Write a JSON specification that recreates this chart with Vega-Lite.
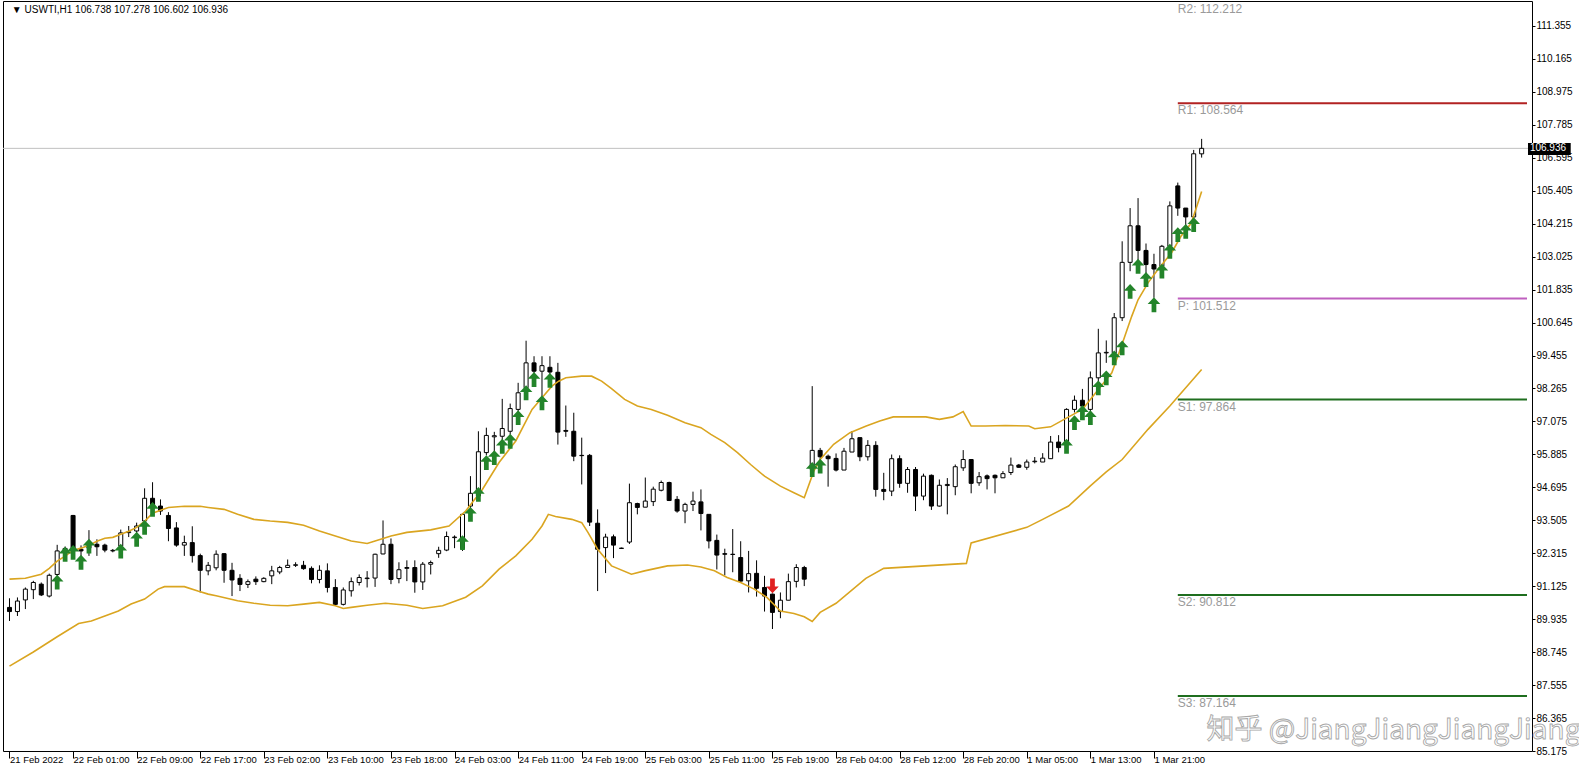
{
  "$schema": "https://vega.github.io/schema/vega-lite/v6.json",
  "width": 1529,
  "height": 750,
  "autosize": {"type": "none"},
  "padding": {"left": 3, "top": 1, "right": 47, "bottom": 28},
  "background": "#ffffff",
  "config": {"view": {"stroke": "#000000", "strokeWidth": 1}, "axis": {"labelOverlap": false, "labelFlush": false, "grid": false, "domain": false}},
  "datasets": {
    "candles": [
      {"i":0,"o":90.36,"h":90.69,"l":89.87,"c":90.21},{"i":1,"o":90.21,"h":90.72,"l":90.05,"c":90.59},{"i":2,"o":90.63,"h":91.08,"l":90.30,"c":91.02},{"i":3,"o":91.00,"h":91.32,"l":90.66,"c":91.26},{"i":4,"o":91.20,"h":91.26,"l":90.77,"c":90.81},
      {"i":5,"o":90.77,"h":91.58,"l":90.72,"c":91.52},{"i":6,"o":91.55,"h":92.62,"l":91.45,"c":92.40},{"i":7,"o":92.38,"h":92.56,"l":92.20,"c":92.49},{"i":8,"o":93.68,"h":93.70,"l":92.42,"c":92.50},{"i":9,"o":92.46,"h":92.60,"l":92.20,"c":92.40},
      {"i":10,"o":92.50,"h":93.15,"l":92.22,"c":92.70},{"i":11,"o":92.64,"h":92.82,"l":92.22,"c":92.55},{"i":12,"o":92.61,"h":92.66,"l":92.35,"c":92.43},{"i":13,"o":92.40,"h":92.47,"l":92.35,"c":92.42},{"i":14,"o":92.58,"h":93.17,"l":92.40,"c":93.05},
      {"i":15,"o":93.06,"h":93.30,"l":92.90,"c":93.09},{"i":16,"o":93.12,"h":93.42,"l":93.00,"c":93.30},{"i":17,"o":93.48,"h":94.66,"l":93.36,"c":94.30},{"i":18,"o":94.30,"h":94.88,"l":93.90,"c":94.02},{"i":19,"o":94.02,"h":94.26,"l":93.70,"c":93.84},
      {"i":20,"o":93.68,"h":93.80,"l":92.75,"c":93.21},{"i":21,"o":93.23,"h":93.44,"l":92.55,"c":92.61},{"i":22,"o":92.61,"h":92.95,"l":92.22,"c":92.70},{"i":23,"o":92.70,"h":93.29,"l":91.98,"c":92.23},{"i":24,"o":92.23,"h":92.30,"l":90.90,"c":91.70},
      {"i":25,"o":91.68,"h":92.00,"l":91.52,"c":91.88},{"i":26,"o":91.79,"h":92.42,"l":91.70,"c":92.28},{"i":27,"o":92.30,"h":92.32,"l":91.25,"c":91.70},{"i":28,"o":91.70,"h":91.97,"l":90.77,"c":91.35},{"i":29,"o":91.41,"h":91.56,"l":90.95,"c":91.19},
      {"i":30,"o":91.19,"h":91.37,"l":91.06,"c":91.29},{"i":31,"o":91.38,"h":91.48,"l":91.17,"c":91.29},{"i":32,"o":91.29,"h":91.45,"l":91.27,"c":91.41},{"i":33,"o":91.50,"h":91.86,"l":91.20,"c":91.68},{"i":34,"o":91.64,"h":91.86,"l":91.56,"c":91.80},
      {"i":35,"o":91.80,"h":92.09,"l":91.80,"c":91.88},{"i":36,"o":91.88,"h":91.99,"l":91.82,"c":91.90},{"i":37,"o":91.88,"h":92.04,"l":91.72,"c":91.76},{"i":38,"o":91.77,"h":91.84,"l":91.23,"c":91.37},{"i":39,"o":91.37,"h":91.88,"l":91.23,"c":91.70},
      {"i":40,"o":91.68,"h":91.95,"l":90.90,"c":91.08},{"i":41,"o":91.08,"h":91.38,"l":90.42,"c":90.47},{"i":42,"o":90.47,"h":91.08,"l":90.43,"c":90.99},{"i":43,"o":90.96,"h":91.44,"l":90.75,"c":91.29},{"i":44,"o":91.26,"h":91.55,"l":91.15,"c":91.44},
      {"i":45,"o":91.40,"h":91.67,"l":91.08,"c":91.42},{"i":46,"o":91.42,"h":92.30,"l":91.10,"c":92.28},{"i":47,"o":92.29,"h":93.50,"l":92.28,"c":92.64},{"i":48,"o":92.64,"h":92.85,"l":91.20,"c":91.37},{"i":49,"o":91.40,"h":91.99,"l":91.23,"c":91.72},
      {"i":50,"o":91.77,"h":92.06,"l":91.31,"c":91.80},{"i":51,"o":91.80,"h":92.06,"l":90.89,"c":91.28},{"i":52,"o":91.28,"h":92.00,"l":90.99,"c":91.92},{"i":53,"o":91.92,"h":92.05,"l":91.55,"c":91.98},{"i":54,"o":92.30,"h":92.55,"l":92.15,"c":92.42},
      {"i":55,"o":92.43,"h":93.10,"l":92.39,"c":92.92},{"i":56,"o":92.88,"h":92.96,"l":92.50,"c":92.90},{"i":57,"o":92.48,"h":93.76,"l":92.40,"c":93.72},{"i":58,"o":94.02,"h":95.10,"l":93.90,"c":94.48},{"i":59,"o":94.38,"h":96.72,"l":94.25,"c":95.98},
      {"i":60,"o":95.95,"h":96.85,"l":95.85,"c":96.57},{"i":61,"o":96.52,"h":96.70,"l":95.95,"c":96.56},{"i":62,"o":96.54,"h":97.89,"l":96.35,"c":96.82},{"i":63,"o":96.72,"h":97.72,"l":96.60,"c":97.54},{"i":64,"o":97.51,"h":98.47,"l":97.40,"c":98.11},
      {"i":65,"o":98.29,"h":99.99,"l":98.10,"c":99.19},{"i":66,"o":99.19,"h":99.43,"l":98.75,"c":98.89},{"i":67,"o":98.89,"h":99.43,"l":97.99,"c":99.09},{"i":68,"o":99.03,"h":99.43,"l":98.60,"c":98.86},{"i":69,"o":98.85,"h":99.19,"l":96.24,"c":96.69},
      {"i":70,"o":96.75,"h":97.65,"l":96.52,"c":96.72},{"i":71,"o":96.72,"h":97.39,"l":95.64,"c":95.82},{"i":72,"o":95.85,"h":96.49,"l":94.80,"c":95.84},{"i":73,"o":95.85,"h":95.90,"l":93.30,"c":93.44},{"i":74,"o":93.40,"h":93.90,"l":90.95,"c":92.46},
      {"i":75,"o":92.52,"h":93.02,"l":91.60,"c":92.90},{"i":76,"o":92.91,"h":92.99,"l":92.14,"c":92.61},{"i":77,"o":92.50,"h":92.52,"l":92.47,"c":92.49},{"i":78,"o":92.72,"h":94.83,"l":92.65,"c":94.14},{"i":79,"o":94.11,"h":94.14,"l":93.72,"c":93.97},
      {"i":80,"o":93.98,"h":95.05,"l":93.98,"c":94.20},{"i":81,"o":94.18,"h":94.72,"l":94.02,"c":94.63},{"i":82,"o":94.59,"h":94.94,"l":94.55,"c":94.87},{"i":83,"o":94.87,"h":94.90,"l":94.20,"c":94.22},{"i":84,"o":94.26,"h":94.38,"l":93.78,"c":93.84},
      {"i":85,"o":93.84,"h":94.14,"l":93.40,"c":94.08},{"i":86,"o":94.08,"h":94.54,"l":93.84,"c":94.20},{"i":87,"o":94.17,"h":94.62,"l":93.14,"c":93.75},{"i":88,"o":93.72,"h":93.72,"l":92.49,"c":92.76},{"i":89,"o":92.78,"h":92.99,"l":91.73,"c":92.25},
      {"i":90,"o":92.30,"h":92.48,"l":91.52,"c":92.28},{"i":91,"o":92.28,"h":93.19,"l":91.63,"c":92.27},{"i":92,"o":92.16,"h":92.75,"l":91.25,"c":91.31},{"i":93,"o":91.32,"h":92.40,"l":90.90,"c":91.58},{"i":94,"o":91.59,"h":92.06,"l":90.75,"c":91.05},
      {"i":95,"o":91.08,"h":91.50,"l":90.21,"c":90.77},{"i":96,"o":90.84,"h":90.86,"l":89.58,"c":90.18},{"i":97,"o":90.21,"h":90.90,"l":89.97,"c":90.62},{"i":98,"o":90.62,"h":91.58,"l":90.62,"c":91.29},{"i":99,"o":91.30,"h":91.92,"l":91.08,"c":91.80},
      {"i":100,"o":91.80,"h":91.86,"l":91.13,"c":91.38},{"i":101,"o":95.34,"h":98.35,"l":95.16,"c":96.03},{"i":102,"o":96.03,"h":96.12,"l":95.60,"c":95.80},{"i":103,"o":95.82,"h":95.88,"l":94.72,"c":95.73},{"i":104,"o":95.74,"h":95.92,"l":95.27,"c":95.32},
      {"i":105,"o":95.32,"h":96.12,"l":95.32,"c":96.00},{"i":106,"o":95.97,"h":96.73,"l":95.97,"c":96.45},{"i":107,"o":96.49,"h":96.49,"l":95.64,"c":95.80},{"i":108,"o":95.80,"h":96.40,"l":95.66,"c":96.21},{"i":109,"o":96.21,"h":96.36,"l":94.36,"c":94.62},
      {"i":110,"o":94.62,"h":95.22,"l":94.23,"c":94.55},{"i":111,"o":94.56,"h":95.88,"l":94.38,"c":95.73},{"i":112,"o":95.73,"h":95.85,"l":94.68,"c":94.84},{"i":113,"o":94.84,"h":95.43,"l":94.50,"c":95.34},{"i":114,"o":95.34,"h":95.43,"l":93.84,"c":94.38},
      {"i":115,"o":94.38,"h":95.19,"l":94.23,"c":95.10},{"i":116,"o":95.13,"h":95.16,"l":93.88,"c":94.02},{"i":117,"o":94.02,"h":94.98,"l":94.00,"c":94.77},{"i":118,"o":94.76,"h":95.03,"l":93.72,"c":94.80},{"i":119,"o":94.72,"h":95.52,"l":94.41,"c":95.44},
      {"i":120,"o":95.40,"h":96.04,"l":95.29,"c":95.70},{"i":121,"o":95.70,"h":95.70,"l":94.48,"c":94.84},{"i":122,"o":94.86,"h":95.25,"l":94.75,"c":95.08},{"i":123,"o":95.11,"h":95.16,"l":94.62,"c":95.01},{"i":124,"o":95.13,"h":95.16,"l":94.48,"c":95.04},
      {"i":125,"o":95.04,"h":95.28,"l":95.04,"c":95.19},{"i":126,"o":95.23,"h":95.77,"l":95.14,"c":95.50},{"i":127,"o":95.50,"h":95.54,"l":95.40,"c":95.42},{"i":128,"o":95.42,"h":95.70,"l":95.33,"c":95.61},{"i":129,"o":95.62,"h":95.79,"l":95.56,"c":95.64},
      {"i":130,"o":95.61,"h":95.93,"l":95.61,"c":95.75},{"i":131,"o":95.73,"h":96.55,"l":95.73,"c":96.33},{"i":132,"o":96.33,"h":96.58,"l":95.96,"c":96.13},{"i":133,"o":96.25,"h":97.55,"l":96.20,"c":97.51},{"i":134,"o":97.51,"h":98.01,"l":97.40,"c":97.84},
      {"i":135,"o":97.84,"h":98.25,"l":97.50,"c":97.63},{"i":136,"o":97.51,"h":98.88,"l":97.35,"c":98.65},{"i":137,"o":98.65,"h":100.42,"l":98.50,"c":99.55},{"i":138,"o":99.55,"h":100.00,"l":99.19,"c":99.57},{"i":139,"o":99.55,"h":100.99,"l":99.40,"c":100.82},
      {"i":140,"o":100.82,"h":103.58,"l":100.70,"c":102.82},{"i":141,"o":102.82,"h":104.78,"l":102.50,"c":104.14},{"i":142,"o":104.14,"h":105.14,"l":102.90,"c":103.25},{"i":143,"o":103.25,"h":103.50,"l":102.30,"c":102.74},{"i":144,"o":102.74,"h":103.13,"l":101.54,"c":102.58},
      {"i":145,"o":102.68,"h":103.45,"l":102.50,"c":103.40},{"i":146,"o":103.40,"h":105.02,"l":103.30,"c":104.86},{"i":147,"o":105.58,"h":105.70,"l":104.50,"c":104.78},{"i":148,"o":104.78,"h":104.78,"l":103.80,"c":104.46},{"i":149,"o":104.46,"h":106.88,"l":104.20,"c":106.74},
      {"i":150,"o":106.738,"h":107.278,"l":106.602,"c":106.936}
    ],
    "bands": [
      {"band":"upper","i":0,"v":91.38},{"band":"upper","i":2,"v":91.41},{"band":"upper","i":4,"v":91.56},{"band":"upper","i":5,"v":91.77},{"band":"upper","i":6,"v":92.03},{"band":"upper","i":7,"v":92.21},{"band":"upper","i":8,"v":92.42},{"band":"upper","i":9,"v":92.50},{"band":"upper","i":10,"v":92.60},{"band":"upper","i":11,"v":92.75},{"band":"upper","i":12,"v":92.86},{"band":"upper","i":13,"v":92.89},{"band":"upper","i":14,"v":93.00},{"band":"upper","i":15,"v":93.11},{"band":"upper","i":16,"v":93.25},{"band":"upper","i":17,"v":93.47},{"band":"upper","i":18,"v":93.76},{"band":"upper","i":19,"v":93.87},{"band":"upper","i":20,"v":93.97},{"band":"upper","i":22,"v":94.01},{"band":"upper","i":24,"v":94.01},{"band":"upper","i":25,"v":93.97},{"band":"upper","i":27,"v":93.90},{"band":"upper","i":28.7,"v":93.72},{"band":"upper","i":30.75,"v":93.54},{"band":"upper","i":32.8,"v":93.48},{"band":"upper","i":35,"v":93.43},{"band":"upper","i":37,"v":93.33},{"band":"upper","i":39,"v":93.12},{"band":"upper","i":41,"v":92.94},{"band":"upper","i":43,"v":92.76},{"band":"upper","i":45,"v":92.67},{"band":"upper","i":46,"v":92.76},{"band":"upper","i":48,"v":92.94},{"band":"upper","i":50,"v":93.07},{"band":"upper","i":53,"v":93.16},{"band":"upper","i":55.3,"v":93.30},{"band":"upper","i":57.4,"v":93.84},{"band":"upper","i":59.5,"v":94.62},{"band":"upper","i":61.6,"v":95.59},{"band":"upper","i":63.7,"v":96.37},{"band":"upper","i":65.75,"v":97.51},{"band":"upper","i":67,"v":97.93},{"band":"upper","i":68.25,"v":98.35},{"band":"upper","i":69.1,"v":98.53},{"band":"upper","i":70,"v":98.65},{"band":"upper","i":72,"v":98.71},{"band":"upper","i":73.25,"v":98.71},{"band":"upper","i":74.5,"v":98.53},{"band":"upper","i":75.75,"v":98.26},{"band":"upper","i":77.4,"v":97.87},{"band":"upper","i":79,"v":97.63},{"band":"upper","i":80.75,"v":97.51},{"band":"upper","i":82.8,"v":97.30},{"band":"upper","i":85,"v":97.03},{"band":"upper","i":87,"v":96.85},{"band":"upper","i":88.25,"v":96.61},{"band":"upper","i":90,"v":96.31},{"band":"upper","i":91.6,"v":95.95},{"band":"upper","i":93.25,"v":95.52},{"band":"upper","i":95,"v":95.10},{"band":"upper","i":97,"v":94.74},{"band":"upper","i":98.7,"v":94.50},{"band":"upper","i":100,"v":94.32},{"band":"upper","i":101.2,"v":95.28},{"band":"upper","i":102,"v":95.70},{"band":"upper","i":103.7,"v":96.25},{"band":"upper","i":105.75,"v":96.67},{"band":"upper","i":107.8,"v":96.91},{"band":"upper","i":109.5,"v":97.09},{"band":"upper","i":111.2,"v":97.24},{"band":"upper","i":113.25,"v":97.24},{"band":"upper","i":115.3,"v":97.24},{"band":"upper","i":117,"v":97.15},{"band":"upper","i":118.7,"v":97.24},{"band":"upper","i":120,"v":97.43},{"band":"upper","i":121,"v":96.91},{"band":"upper","i":122.8,"v":96.91},{"band":"upper","i":125.3,"v":96.93},{"band":"upper","i":128.25,"v":96.91},{"band":"upper","i":129,"v":96.81},{"band":"upper","i":131,"v":96.88},{"band":"upper","i":132.7,"v":97.15},{"band":"upper","i":135,"v":97.51},{"band":"upper","i":137,"v":98.23},{"band":"upper","i":138.7,"v":98.83},{"band":"upper","i":139.9,"v":99.79},{"band":"upper","i":141.2,"v":100.87},{"band":"upper","i":142,"v":101.47},{"band":"upper","i":143.25,"v":102.08},{"band":"upper","i":144.5,"v":102.56},{"band":"upper","i":146.2,"v":103.16},{"band":"upper","i":147.4,"v":103.76},{"band":"upper","i":148.7,"v":104.24},{"band":"upper","i":150,"v":105.38},
      {"band":"lower","i":0,"v":88.24},{"band":"lower","i":3,"v":88.75},{"band":"lower","i":6,"v":89.30},{"band":"lower","i":8.7,"v":89.78},{"band":"lower","i":10.3,"v":89.87},{"band":"lower","i":12,"v":90.05},{"band":"lower","i":13.7,"v":90.23},{"band":"lower","i":15.3,"v":90.48},{"band":"lower","i":17,"v":90.66},{"band":"lower","i":18.7,"v":91.02},{"band":"lower","i":19.5,"v":91.11},{"band":"lower","i":22,"v":91.11},{"band":"lower","i":23.7,"v":90.95},{"band":"lower","i":25,"v":90.84},{"band":"lower","i":26,"v":90.78},{"band":"lower","i":28.7,"v":90.60},{"band":"lower","i":30.75,"v":90.51},{"band":"lower","i":32.8,"v":90.44},{"band":"lower","i":35,"v":90.42},{"band":"lower","i":37,"v":90.48},{"band":"lower","i":39,"v":90.54},{"band":"lower","i":41,"v":90.42},{"band":"lower","i":42,"v":90.32},{"band":"lower","i":43,"v":90.36},{"band":"lower","i":45,"v":90.44},{"band":"lower","i":47.3,"v":90.51},{"band":"lower","i":50,"v":90.44},{"band":"lower","i":52,"v":90.32},{"band":"lower","i":54.5,"v":90.42},{"band":"lower","i":57.4,"v":90.73},{"band":"lower","i":59.5,"v":91.14},{"band":"lower","i":61.6,"v":91.74},{"band":"lower","i":63.7,"v":92.22},{"band":"lower","i":65.75,"v":92.82},{"band":"lower","i":67,"v":93.30},{"band":"lower","i":67.8,"v":93.72},{"band":"lower","i":68.7,"v":93.64},{"band":"lower","i":70.75,"v":93.54},{"band":"lower","i":72,"v":93.42},{"band":"lower","i":72.8,"v":93.06},{"band":"lower","i":74,"v":92.46},{"band":"lower","i":75.75,"v":91.86},{"band":"lower","i":78.25,"v":91.56},{"band":"lower","i":79.9,"v":91.68},{"band":"lower","i":82.8,"v":91.86},{"band":"lower","i":85.3,"v":91.89},{"band":"lower","i":87,"v":91.82},{"band":"lower","i":88.7,"v":91.68},{"band":"lower","i":90.3,"v":91.44},{"band":"lower","i":92,"v":91.26},{"band":"lower","i":93.7,"v":91.02},{"band":"lower","i":95.3,"v":90.72},{"band":"lower","i":97,"v":90.23},{"band":"lower","i":98.7,"v":90.14},{"band":"lower","i":100,"v":90.02},{"band":"lower","i":101,"v":89.85},{"band":"lower","i":102,"v":90.18},{"band":"lower","i":104,"v":90.51},{"band":"lower","i":107.75,"v":91.41},{"band":"lower","i":110,"v":91.77},{"band":"lower","i":120.4,"v":91.95},{"band":"lower","i":121,"v":92.69},{"band":"lower","i":128,"v":93.25},{"band":"lower","i":130,"v":93.54},{"band":"lower","i":133.25,"v":94.02},{"band":"lower","i":136,"v":94.75},{"band":"lower","i":138,"v":95.25},{"band":"lower","i":140,"v":95.70},{"band":"lower","i":143.25,"v":96.79},{"band":"lower","i":146,"v":97.63},{"band":"lower","i":150,"v":98.95}
    ],
    "signals": [
      {"i":6,"p":91.27,"dir":"up"},{"i":7,"p":92.28,"dir":"up"},{"i":8,"p":92.35,"dir":"up"},{"i":9,"p":91.99,"dir":"up"},{"i":10,"p":92.57,"dir":"up"},{"i":14,"p":92.39,"dir":"up"},{"i":16,"p":92.82,"dir":"up"},{"i":17,"p":93.25,"dir":"up"},{"i":18,"p":93.90,"dir":"up"},
      {"i":57,"p":92.70,"dir":"up"},{"i":58,"p":93.72,"dir":"up"},{"i":59,"p":94.44,"dir":"up"},{"i":60,"p":95.59,"dir":"up"},{"i":61,"p":95.77,"dir":"up"},{"i":62,"p":96.18,"dir":"up"},{"i":63,"p":96.36,"dir":"up"},{"i":64,"p":97.21,"dir":"up"},{"i":65,"p":98.11,"dir":"up"},{"i":66,"p":98.59,"dir":"up"},{"i":67,"p":97.75,"dir":"up"},{"i":68,"p":98.56,"dir":"up"},
      {"i":96,"p":91.14,"dir":"down"},
      {"i":101,"p":95.34,"dir":"up"},{"i":102,"p":95.46,"dir":"up"},
      {"i":133,"p":96.18,"dir":"up"},{"i":134,"p":97.03,"dir":"up"},{"i":135,"p":97.39,"dir":"up"},{"i":136,"p":97.21,"dir":"up"},{"i":137,"p":98.29,"dir":"up"},{"i":138,"p":98.65,"dir":"up"},{"i":139,"p":99.37,"dir":"up"},{"i":140,"p":99.73,"dir":"up"},{"i":141,"p":101.77,"dir":"up"},{"i":142,"p":102.68,"dir":"up"},{"i":143,"p":102.20,"dir":"up"},{"i":144,"p":101.29,"dir":"up"},{"i":145,"p":102.50,"dir":"up"},{"i":146,"p":103.22,"dir":"up"},{"i":147,"p":103.82,"dir":"up"},{"i":148,"p":103.94,"dir":"up"},{"i":149,"p":104.18,"dir":"up"}
    ],
    "pivots": [
      {"name":"R2","value":112.212,"label":"R2: 112.212"},
      {"name":"R1","value":108.564,"label":"R1: 108.564"},
      {"name":"P","value":101.512,"label":"P: 101.512"},
      {"name":"S1","value":97.864,"label":"S1: 97.864"},
      {"name":"S2","value":90.812,"label":"S2: 90.812"},
      {"name":"S3","value":87.164,"label":"S3: 87.164"}
    ],
    "last": [{"price":106.936}],
    "header": [{"text":"▼ USWTI,H1  106.738 107.278 106.602 106.936"}]
  },
  "layer": [
    {
      "data": {"name": "last"},
      "mark": {"type": "rule", "color": "#c0c0c0", "strokeWidth": 1},
      "encoding": {
        "y": {"field": "price", "type": "quantitative", "title": null, "scale": {"domain": [85.175, 112.257], "nice": false, "zero": false}}
      }
    },
    {
      "data": {"name": "pivots"},
      "transform": [{"filter": "datum.name != 'R2'"}],
      "mark": {"type": "rule", "strokeWidth": 2},
      "encoding": {
        "x": {"datum": 147, "type": "quantitative", "title": null, "scale": {"domain": [-0.1875, 190.9375], "nice": false, "zero": false}},
        "x2": {"datum": 190.9375},
        "y": {"field": "value", "type": "quantitative", "title": null, "scale": {"domain": [85.175, 112.257], "nice": false, "zero": false}},
        "color": {"field": "name", "type": "nominal", "legend": null, "scale": {"domain": ["R2", "R1", "P", "S1", "S2", "S3"], "range": ["#b22222", "#b22222", "#bf60bf", "#1f6e1f", "#1f6e1f", "#1f6e1f"]}}
      }
    },
    {
      "data": {"name": "pivots"},
      "mark": {"type": "text", "align": "left", "baseline": "top", "dy": 2, "fontSize": 12, "font": "Liberation Sans", "color": "#9a9a9a"},
      "encoding": {
        "x": {"datum": 147, "type": "quantitative", "title": null, "scale": {"domain": [-0.1875, 190.9375], "nice": false, "zero": false}},
        "y": {"field": "value", "type": "quantitative", "title": null, "scale": {"domain": [85.175, 112.257], "nice": false, "zero": false}},
        "text": {"field": "label"}
      }
    },
    {
      "data": {"name": "header"},
      "mark": {"type": "text", "align": "left", "baseline": "middle", "fontSize": 10, "font": "Liberation Sans", "color": "#000000"},
      "encoding": {
        "x": {"datum": 0.3, "type": "quantitative", "title": null, "scale": {"domain": [-0.1875, 190.9375], "nice": false, "zero": false}},
        "y": {"datum": 111.93, "type": "quantitative", "title": null, "scale": {"domain": [85.175, 112.257], "nice": false, "zero": false}},
        "text": {"field": "text"}
      }
    },
    {
      "data": {"name": "candles"},
      "mark": {"type": "rule", "color": "#000000", "strokeWidth": 1},
      "encoding": {
        "x": {"field": "i", "type": "quantitative", "title": null,
          "scale": {"domain": [-0.1875, 190.9375], "nice": false, "zero": false},
          "axis": {"orient": "bottom", "values": [0, 8, 16, 24, 32, 40, 48, 56, 64, 72, 80, 88, 96, 104, 112, 120, 128, 136, 144], "tickCount": 40,
            "labelExpr": "['21 Feb 2022','22 Feb 01:00','22 Feb 09:00','22 Feb 17:00','23 Feb 02:00','23 Feb 10:00','23 Feb 18:00','24 Feb 03:00','24 Feb 11:00','24 Feb 19:00','25 Feb 03:00','25 Feb 11:00','25 Feb 19:00','28 Feb 04:00','28 Feb 12:00','28 Feb 20:00','1 Mar 05:00','1 Mar 13:00','1 Mar 21:00'][round(datum.value / 8)]",
            "labelAlign": "left", "labelBaseline": "top", "labelDx": 2, "labelPadding": -4, "tickSize": 7, "tickColor": "#000000", "domain": false, "grid": false,
            "labelFont": "Liberation Sans", "labelFontSize": 9.5, "labelColor": "#000000", "labelOverlap": false, "labelFlush": false}
        },
        "y": {"field": "l", "type": "quantitative", "title": null,
          "scale": {"domain": [85.175, 112.257], "nice": false, "zero": false},
          "axis": {"orient": "right", "values": [85.175, 86.365, 87.555, 88.745, 89.935, 91.125, 92.315, 93.505, 94.695, 95.885, 97.075, 98.265, 99.455, 100.645, 101.835, 103.025, 104.215, 105.405, 106.595, 107.785, 108.975, 110.165, 111.355], "tickCount": 40,
            "format": ".3f", "tickSize": 3, "tickColor": "#000000", "labelPadding": 1, "domain": false, "grid": false,
            "labelFont": "Liberation Sans", "labelFontSize": 10, "labelColor": "#000000", "labelOverlap": false, "labelFlush": false, "labelBound": false}
        },
        "y2": {"field": "h"}
      }
    },
    {
      "data": {"name": "candles"},
      "mark": {"type": "bar", "size": 4, "stroke": "#000000", "strokeWidth": 1},
      "encoding": {
        "x": {"field": "i", "type": "quantitative", "title": null, "scale": {"domain": [-0.1875, 190.9375], "nice": false, "zero": false}},
        "y": {"field": "o", "type": "quantitative", "title": null, "scale": {"domain": [85.175, 112.257], "nice": false, "zero": false}},
        "y2": {"field": "c"},
        "fill": {"condition": {"test": "datum.c < datum.o", "value": "#000000"}, "value": "#ffffff"}
      }
    },
    {
      "data": {"name": "bands"},
      "mark": {"type": "line", "color": "#daa520", "strokeWidth": 1.6},
      "encoding": {
        "x": {"field": "i", "type": "quantitative", "title": null, "scale": {"domain": [-0.1875, 190.9375], "nice": false, "zero": false}},
        "y": {"field": "v", "type": "quantitative", "title": null, "scale": {"domain": [85.175, 112.257], "nice": false, "zero": false}},
        "detail": {"field": "band"}
      }
    },
    {
      "data": {"name": "signals"},
      "transform": [{"filter": "datum.dir == 'up'"}],
      "mark": {"type": "point", "shape": "M0,-1L0.85,-0.1L0.32,-0.1L0.32,1L-0.32,1L-0.32,-0.1L-0.85,-0.1Z", "size": 220, "filled": true, "color": "#23842a", "opacity": 1},
      "encoding": {
        "x": {"field": "i", "type": "quantitative", "title": null, "scale": {"domain": [-0.1875, 190.9375], "nice": false, "zero": false}},
        "y": {"field": "p", "type": "quantitative", "title": null, "scale": {"domain": [85.175, 112.257], "nice": false, "zero": false}}
      }
    },
    {
      "data": {"name": "signals"},
      "transform": [{"filter": "datum.dir == 'down'"}],
      "mark": {"type": "point", "shape": "M0,1L0.85,0.1L0.32,0.1L0.32,-1L-0.32,-1L-0.32,0.1L-0.85,0.1Z", "size": 220, "filled": true, "color": "#e02020", "opacity": 1},
      "encoding": {
        "x": {"field": "i", "type": "quantitative", "title": null, "scale": {"domain": [-0.1875, 190.9375], "nice": false, "zero": false}},
        "y": {"field": "p", "type": "quantitative", "title": null, "scale": {"domain": [85.175, 112.257], "nice": false, "zero": false}}
      }
    },
    {
      "data": {"name": "last"},
      "mark": {"type": "rect", "color": "#000000"},
      "encoding": {
        "x": {"datum": 191.0625, "type": "quantitative", "title": null, "scale": {"domain": [-0.1875, 190.9375], "nice": false, "zero": false}},
        "x2": {"datum": 196.4375},
        "y": {"datum": 107.131, "type": "quantitative", "title": null, "scale": {"domain": [85.175, 112.257], "nice": false, "zero": false}},
        "y2": {"datum": 106.698}
      }
    },
    {
      "data": {"name": "last"},
      "mark": {"type": "text", "align": "left", "baseline": "middle", "fontSize": 10, "font": "Liberation Sans", "color": "#ffffff"},
      "encoding": {
        "x": {"datum": 191.3, "type": "quantitative", "title": null, "scale": {"domain": [-0.1875, 190.9375], "nice": false, "zero": false}},
        "y": {"field": "price", "type": "quantitative", "title": null, "scale": {"domain": [85.175, 112.257], "nice": false, "zero": false}},
        "text": {"field": "price", "format": ".3f"}
      }
    },
    {
      "data": {"values": [{"mark": "知乎 @JiangJiangJiangJiang"}]},
      "mark": {"type": "text", "align": "left", "baseline": "middle", "fontSize": 28, "font": "Noto Sans CJK SC", "fill": "#ffffff", "stroke": "#a8a8a8", "strokeWidth": 0.9},
      "encoding": {
        "x": {"datum": 150.6, "type": "quantitative", "title": null, "scale": {"domain": [-0.1875, 190.9375], "nice": false, "zero": false}},
        "y": {"datum": 85.9, "type": "quantitative", "title": null, "scale": {"domain": [85.175, 112.257], "nice": false, "zero": false}},
        "text": {"field": "mark"}
      }
    }
  ]
}
